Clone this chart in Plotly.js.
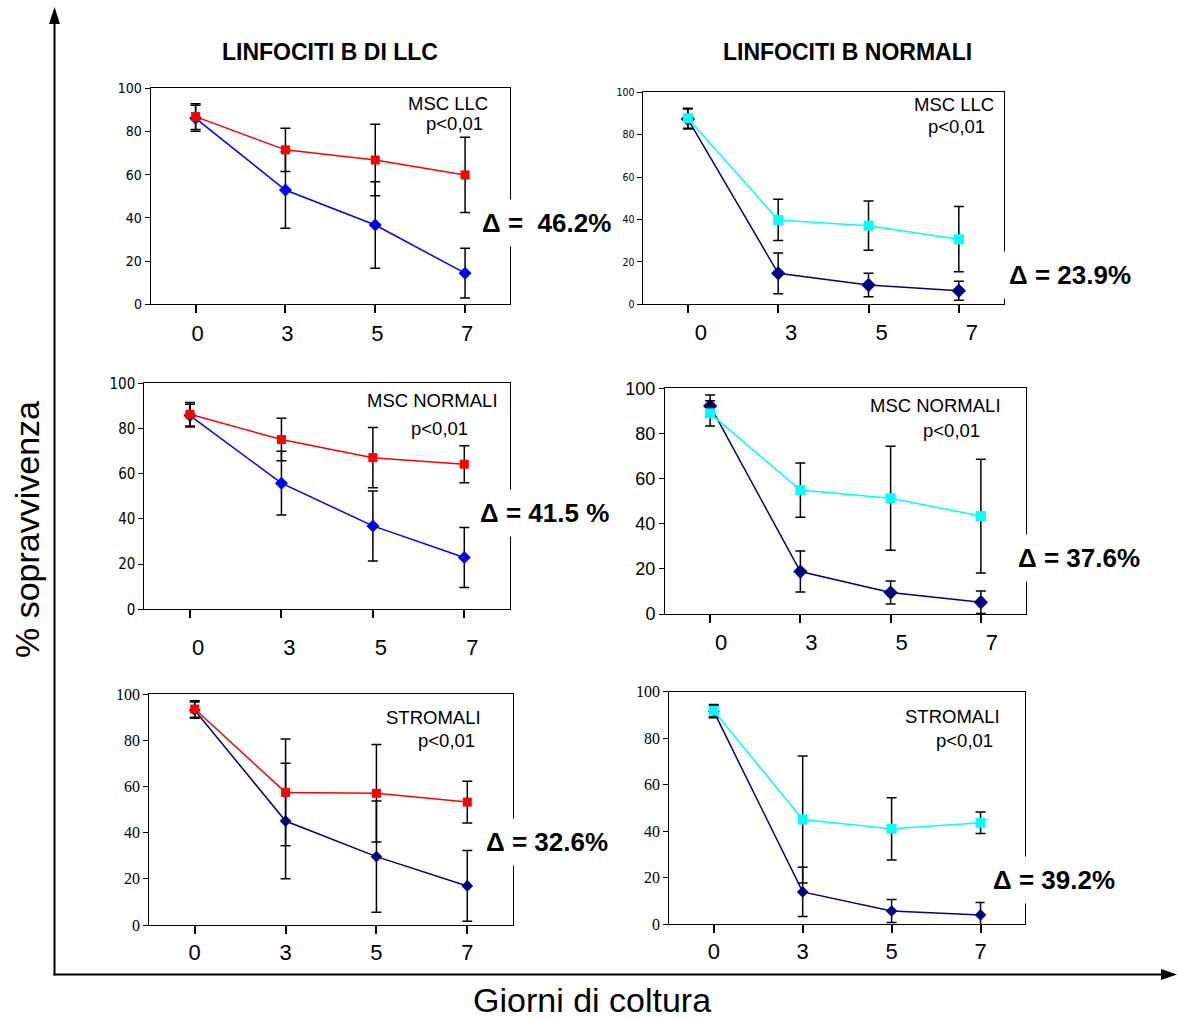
<!DOCTYPE html>
<html><head><meta charset="utf-8">
<script src="https://cdn.plot.ly/plotly-3.0.1.min.js"></script>
<style>html,body{margin:0;padding:0;background:#fff}</style>
</head><body><div id="chart" style="width:1178px;height:1019px"></div>
<script>
// ---- data ----
const days = ['0', '3', '5', '7'];

// Panel 1: LINFOCITI B DI LLC – MSC LLC
const p1Red = [86.9, 71.5, 66.8, 59.9];
const p1RedErr = [6.0, 10.0, 16.5, 17.4];
const p1Blue = [86.1, 52.9, 36.7, 14.4];
const p1BlueErr = [6.0, 17.7, 20.0, 11.5];

// Panel 2: LINFOCITI B NORMALI – MSC LLC
const p2Cyan = [87.8, 39.8, 37.1, 30.7];
const p2CyanErr = [4.7, 9.7, 11.6, 15.4];
const p2Navy = [87.4, 14.6, 9.1, 6.4];
const p2NavyErr = [4.7, 9.6, 5.5, 4.5];

// Panel 3: LINFOCITI B DI LLC – MSC NORMALI
const p3Red = [86.3, 75.1, 67.1, 64.2];
const p3RedErr = [5.2, 9.4, 13.3, 8.2];
const p3Blue = [85.7, 55.8, 36.9, 22.9];
const p3BlueErr = [5.0, 14.1, 15.5, 13.3];

// Panel 4: LINFOCITI B NORMALI – MSC NORMALI
const p4Navy = [92.2, 18.8, 9.5, 5.2];
const p4NavyErr = [4.8, 9.1, 5.1, 5.0];
const p4Cyan = [88.9, 54.9, 51.3, 43.4];
const p4CyanErr = [5.6, 12.0, 23.0, 25.2];

// Panel 5: LINFOCITI B DI LLC – STROMALI
const p5Red = [93.5, 57.4, 57.0, 53.2];
const p5RedErr = [3.6, 23.1, 21.1, 9.0];
const p5Navy = [93.0, 45.0, 29.6, 16.9];
const p5NavyErr = [3.5, 25.0, 24.1, 15.3];

// Panel 6: LINFOCITI B NORMALI – STROMALI
const p6Cyan = [91.8, 45.0, 41.0, 43.6];
const p6CyanErr = [2.7, 27.3, 13.4, 4.6];
const p6Navy = [91.5, 13.8, 5.6, 3.9];
const p6NavyErr = [2.7, 10.6, 5.0, 5.4];

const columnTitles = ['LINFOCITI B DI LLC', 'LINFOCITI B NORMALI'];
const panelLabels = ['MSC LLC', 'MSC LLC', 'MSC NORMALI', 'MSC NORMALI', 'STROMALI', 'STROMALI'];
const pLabel = 'p&lt;0,01';
const deltaLabels = ['\u0394 =\u00A0 46.2%', '\u0394 = 23.9%', '\u0394 = 41.5 %', '\u0394 = 37.6%', '\u0394 = 32.6%', '\u0394 = 39.2%'];

// ---- layout helpers ----
const W = 1178, H = 1019;
const X = px => px / W;
const Y = py => 1 - py / H;

const RED = '#FF0000', BLUE = '#0000FF', NAVY = '#000080', CYAN = '#00FFFF';
const ARIAL = 'Arial, Liberation Sans, sans-serif';
const NARROW = 'DejaVu Sans Condensed, Liberation Sans Narrow, Arial, sans-serif';
const TIMES = 'Liberation Serif';

// plot frames in pixels
const frames = [
  {l: 150.7, r: 510, t: 88.3, b: 304.3, yfont: {family: NARROW, size: 14}, shift: 2, stand: 1},
  {l: 642.7, r: 1004, t: 92.3, b: 304.3, yfont: {family: NARROW, size: 10.5}, shift: 13, stand: 0},
  {l: 144.3, r: 510, t: 383.3, b: 609.3, yfont: {family: NARROW, size: 15}, shift: 8, stand: 10},
  {l: 665, r: 1026, t: 388.3, b: 614, yfont: {family: ARIAL, size: 18}, shift: 11, stand: 1},
  {l: 149.3, r: 512.7, t: 694, b: 925, yfont: {family: TIMES, size: 16}, shift: 0, stand: 0},
  {l: 669.3, r: 1025, t: 691.7, b: 924, yfont: {family: TIMES, size: 16}, shift: 0, stand: 0}
];

function series(i, y, err, color, symbol, size) {
  const s = i === 0 ? '' : String(i + 1);
  return {
    type: 'scatter', mode: 'lines+markers', x: days, y: y,
    xaxis: 'x' + s, yaxis: 'y' + s,
    line: {color: color, width: 1.5},
    marker: {color: color, symbol: symbol, size: size, line: {width: 0}},
    error_y: {type: 'data', array: err, visible: true, color: '#000', thickness: 1.5, width: 5},
    showlegend: false, cliponaxis: false, hoverinfo: 'x+y'
  };
}

const data = [
  series(0, p1Blue, p1BlueErr, BLUE, 'diamond', 10),
  series(0, p1Red, p1RedErr, RED, 'square', 9),
  series(1, p2Navy, p2NavyErr, NAVY, 'diamond', 11),
  series(1, p2Cyan, p2CyanErr, CYAN, 'square', 10),
  series(2, p3Blue, p3BlueErr, BLUE, 'diamond', 10),
  series(2, p3Red, p3RedErr, RED, 'square', 9),
  series(3, p4Navy, p4NavyErr, NAVY, 'diamond', 11),
  series(3, p4Cyan, p4CyanErr, CYAN, 'square', 10),
  series(4, p5Navy, p5NavyErr, NAVY, 'diamond', 9),
  series(4, p5Red, p5RedErr, RED, 'square', 9),
  series(5, p6Navy, p6NavyErr, NAVY, 'diamond', 9),
  series(5, p6Cyan, p6CyanErr, CYAN, 'square', 10)
];

const layout = {
  width: W, height: H,
  margin: {l: 0, r: 0, t: 0, b: 0},
  paper_bgcolor: '#fff', plot_bgcolor: 'rgba(0,0,0,0)',
  font: {family: ARIAL, color: '#000'},
  showlegend: false,
  annotations: [], shapes: []
};

frames.forEach((f, i) => {
  const s = i === 0 ? '' : String(i + 1);
  layout['xaxis' + s] = {
    type: 'category', range: [-0.5, 3.5], domain: [X(f.l), X(f.r)], anchor: 'y' + s,
    showline: true, linecolor: '#000', linewidth: 1, mirror: true,
    ticks: 'outside', ticklen: 8, tickcolor: '#000', tickwidth: 1.5,
    showgrid: false, zeroline: false, fixedrange: true,
    tickfont: {family: ARIAL, size: 22, color: '#000'},
    ticklabelshift: f.shift, ticklabelstandoff: f.stand
  };
  layout['yaxis' + s] = {
    range: [0, 100], dtick: 20, domain: [Y(f.b), Y(f.t)], anchor: 'x' + s,
    showline: true, linecolor: '#000', linewidth: 1, mirror: true,
    ticks: 'outside', ticklen: 5, tickcolor: '#000',
    showgrid: false, zeroline: false, fixedrange: true,
    tickfont: Object.assign({color: '#000'}, f.yfont)
  };
});

// panel labels (right-aligned)
const labelPos = [
  {r1: 490, y1: 103.3, r2: 485, y2: 123.3},
  {r1: 996, y1: 104, r2: 987, y2: 126.7},
  {r1: 500, y1: 400, r2: 470, y2: 428.3},
  {r1: 1003, y1: 405, r2: 982, y2: 430},
  {r1: 483, y1: 717, r2: 477, y2: 740},
  {r1: 1002, y1: 716.7, r2: 995, y2: 740}
];
const deltaPos = [
  {x: 546.5, y: 223}, {x: 1070, y: 275}, {x: 544.5, y: 513},
  {x: 1078.5, y: 558}, {x: 546.5, y: 842}, {x: 1053.5, y: 880}
];
labelPos.forEach((p, i) => {
  layout.annotations.push({text: panelLabels[i], xref: 'paper', yref: 'paper', x: X(p.r1), y: Y(p.y1),
    xanchor: 'right', yanchor: 'middle', showarrow: false, font: {family: ARIAL, size: 18.5, color: '#000'}});
  layout.annotations.push({text: pLabel, xref: 'paper', yref: 'paper', x: X(p.r2), y: Y(p.y2),
    xanchor: 'right', yanchor: 'middle', showarrow: false, font: {family: ARIAL, size: 18.5, color: '#000'}});
  layout.annotations.push({text: '<b>' + deltaLabels[i] + '</b>', xref: 'paper', yref: 'paper',
    x: X(deltaPos[i].x), y: Y(deltaPos[i].y), xanchor: 'center', yanchor: 'middle', showarrow: false,
    bgcolor: '#fff', borderpad: 8, font: {family: ARIAL, size: 26, color: '#000'}});
});

// column titles
layout.annotations.push({text: '<b>' + columnTitles[0] + '</b>', xref: 'paper', yref: 'paper', x: X(330), y: Y(52),
  xanchor: 'center', yanchor: 'middle', showarrow: false, font: {family: ARIAL, size: 23, color: '#000'}});
layout.annotations.push({text: '<b>' + columnTitles[1] + '</b>', xref: 'paper', yref: 'paper', x: X(847), y: Y(52),
  xanchor: 'center', yanchor: 'middle', showarrow: false, font: {family: ARIAL, size: 23, color: '#000'}});

// global axis titles
layout.annotations.push({text: '% sopravvivenza', xref: 'paper', yref: 'paper', x: X(27), y: Y(530),
  xanchor: 'center', yanchor: 'middle', textangle: -90, showarrow: false, font: {family: ARIAL, size: 34, color: '#000'}});
layout.annotations.push({text: 'Giorni di coltura', xref: 'paper', yref: 'paper', x: X(592), y: Y(1000),
  xanchor: 'center', yanchor: 'middle', showarrow: false, font: {family: ARIAL, size: 34, color: '#000'}});

// big arrow axes
layout.shapes.push({type: 'line', xref: 'paper', yref: 'paper', x0: X(54.5), x1: X(54.5), y0: Y(975.5), y1: Y(20), line: {color: '#000', width: 2}});
layout.shapes.push({type: 'path', xref: 'paper', yref: 'paper',
  path: `M ${X(54.5)},${Y(7)} L ${X(49)},${Y(24)} L ${X(60)},${Y(24)} Z`, fillcolor: '#000', line: {color: '#000', width: 0}});
layout.shapes.push({type: 'line', xref: 'paper', yref: 'paper', x0: X(53.5), x1: X(1164), y0: Y(974.5), y1: Y(974.5), line: {color: '#000', width: 2}});
layout.shapes.push({type: 'path', xref: 'paper', yref: 'paper',
  path: `M ${X(1177)},${Y(974.5)} L ${X(1161)},${Y(969)} L ${X(1161)},${Y(980)} Z`, fillcolor: '#000', line: {color: '#000', width: 0}});

Plotly.newPlot('chart', data, layout, {displayModeBar: false, responsive: false});
</script>
</body></html>
